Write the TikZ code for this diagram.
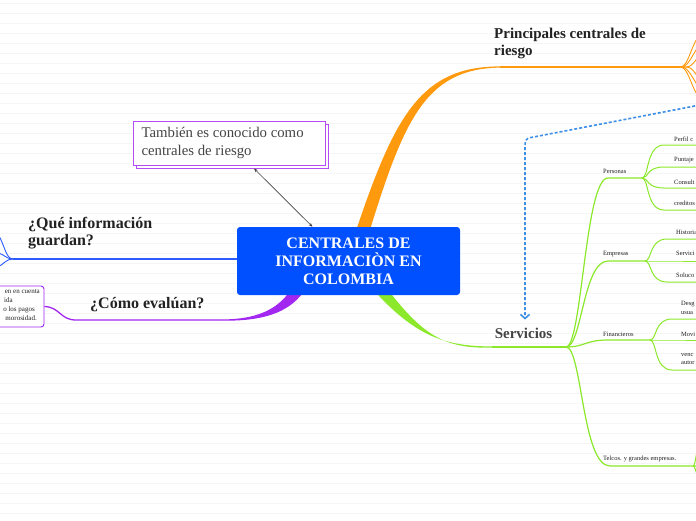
\documentclass[tikz,border=0pt]{standalone}
\usepackage{fontspec}
\setmainfont{Liberation Serif}
\usepackage{xcolor}
\definecolor{hubblue}{HTML}{0050FF}
\definecolor{qblue}{HTML}{2E5BFF}
\definecolor{dashblue}{HTML}{3D8FE8}
\definecolor{rorange}{HTML}{FF9A0E}
\definecolor{sgreen}{HTML}{8BE82B}
\definecolor{epurple}{HTML}{A227F0}
\definecolor{notepurple}{HTML}{B44CF2}
\definecolor{ink}{HTML}{222222}
\definecolor{grey700}{HTML}{444444}
\definecolor{paper}{HTML}{F5F5F5}
\usepackage{tikz}
\usetikzlibrary{arrows.meta, positioning, calc}

\begin{document}
\begin{tikzpicture}[
    x=1pt, y=-1pt,
    >=Stealth,
    hub/.style={fill=hubblue, rounded corners=3pt, minimum width=223pt, minimum height=68pt, align=center, text=white, font=\bfseries\fontsize{16}{18}\selectfont},
    note/.style={draw=notepurple, fill=white, line width=0.9pt, minimum width=192pt, minimum height=44pt},
    topic/.style={font=\bfseries\fontsize{15}{17}\selectfont, text=ink, align=flush left, inner sep=0pt},
    sub/.style={font=\fontsize{6.5}{8}\selectfont, text=ink, anchor=west, inner sep=0pt},
    leaf/.style={font=\fontsize{6.5}{8.5}\selectfont, text=ink, anchor=west, align=flush left, inner sep=0pt},
    twig/.style={draw=sgreen, line width=1pt}
]

% ── Paper ──
\useasboundingbox (0,0) rectangle (696,520);
\clip (0,0) rectangle (696,520);
\fill[white] (0,0) rectangle (696,520);
\foreach \y in {3.5,13.5,...,513.5}
  \draw[paper, line width=1pt] (0,\y) -- (696,\y);

% ── Junctions ──
\coordinate (h) at (348.5,261);
\coordinate (oj) at (680,67);
\coordinate (sj) at (566,347);
\coordinate (qj) at (13,259);
\coordinate (dj) at (700,105);
\coordinate (pj) at (642,178);
\coordinate (ej) at (645,261);
\coordinate (fj) at (650,340);

% ── Main branches ──
\fill[rorange] ($(h)+(4,-20)$) .. controls (393,120) and (418,66.3) .. (500,66.4)
  -- (500,67.6) .. controls (424,68.6) and (403,122) .. ($(h)+(18,-20)$) -- cycle;
\draw[rorange, line width=1.3pt] (500,67) -- (oj);
\foreach \ty in {37,47,57}
  \draw[rorange, line width=0.9pt] (oj) .. controls (688,67) and (690,{\ty+12}) .. (698,\ty);
\foreach \ty in {77,86,96}
  \draw[rorange, line width=0.9pt] (oj) .. controls (688,67) and (690,{\ty-12}) .. (698,\ty);

\fill[sgreen] ($(h)+(17,20)$) .. controls (412,335) and (442,346.4) .. (492,346.4)
  -- (492,347.6) .. controls (446,348.6) and (423,338) .. ($(h)+(33,20)$) -- cycle;
\draw[sgreen, line width=1.3pt] (492,347) -- (sj);

\fill[epurple] ($(h)+(-53,20)$) .. controls (284,306) and (262,319.4) .. (222,319.4)
  -- (222,320.6) .. controls (268,321.5) and (297,310) .. ($(h)+(-39,20)$) -- cycle;

\draw[qblue, line width=1.4pt] (qj -| h) -- (qj);
\draw[qblue, line width=0.9pt] (qj) .. controls (6,259) and (5,246) .. (-2,234);
\draw[qblue, line width=0.9pt] (qj) .. controls (6,259) and (4,254) .. (-2,253);
\draw[qblue, line width=0.9pt] (qj) .. controls (6,259) and (4,264) .. (-2,267);

% ── Hub ──
\node[hub] (cen) at (h) {CENTRALES DE\\INFORMACIÒN EN\\COLOMBIA};

% ── Callout ──
\node[note] (altshadow) at (232,146) {};
\node[note, font=\fontsize{14.8}{17.5}\selectfont, text=grey700, align=flush left, text width=175pt] (alt) at (229,143) {También es conocido como\\centrales de riesgo};
\draw[<->, draw=grey700, line width=0.6pt, >={Stealth[length=4pt,width=3pt]}]
  ($(altshadow.south)+(22,0)$) -- ($(cen.north)+(-36,0)$);

% ── Topics ──
\node[topic, anchor=north west] (riesgo) at (494,28) {Principales centrales de\\riesgo};
\node[topic, anchor=north west, font=\bfseries\fontsize{16}{17}\selectfont] (guarda) at (28,217) {¿Qué información\\guardan?};
\node[topic, anchor=west, font=\bfseries\fontsize{16}{17}\selectfont] (evalua) at (90,305) {¿Cómo evalúan?};
\node[topic, text=grey700] (svc) at (523.5,333) {Servicios};

% ── Evaluation box (cut at left edge) ──
\node[draw=epurple, fill=white, rounded corners=3pt, line width=0.9pt, minimum width=70pt, minimum height=41pt] (pbox) at (9,306.5) {};
\foreach \txt/\lx/\ly in {en en cuenta/40/293, ida/13/302, o los pagos/35/311, morosidad./37/320}
  \node[font=\fontsize{7}{8}\selectfont, text=ink, anchor=base east, inner sep=0pt] (pb\ly) at (\lx,\ly) {\txt};
\draw[epurple, line width=1.3pt] (222,320) -- (76,320) .. controls (60,320) and (60,307) .. (pbox.east);

% ── Dotted link ──
\draw[dashblue, line width=1.6pt, dash pattern=on 3pt off 2pt, -{Straight Barb[length=4pt,width=9pt]}]
  (dj) -- (531,137.5) .. controls (525,138.5) and (525,141) .. (525,148) -- ($(svc.north)+(1.5,-8)$);

% ── Servicios ──
\node[sub] (pers) at (603,171) {Personas};
\node[sub] (empr) at (603,254) {Empresas};
\node[sub] (fina) at (603,334) {Financieros};
\node[sub] (telc) at (603,459) {Telcos. y grandes empresas.};

\draw[twig, line width=1.2pt] (sj) .. controls (582,347) and (585,178) .. (608,178) -- (pj);
\draw[twig, line width=1.2pt] (sj) .. controls (582,347) and (583,261) .. (608,261) -- (ej);
\draw[twig, line width=1.2pt] (sj) .. controls (585,347) and (585,340) .. (608,340) -- (fj);
\draw[twig, line width=1.2pt] (sj) .. controls (582,347) and (582,466) .. (610,466) -- (700,466);
\draw[twig] (693,466) .. controls (695,466) and (695,460) .. (697,452);
\draw[twig] (693,466) .. controls (695,466) and (695,470) .. (697,474);

\foreach \ly in {145,167,188,210}
  \draw[twig] (pj) .. controls (649,178) and (646,\ly) .. (664,\ly) -- (700,\ly);
\foreach \ly in {239,261,282}
  \draw[twig] (ej) .. controls (652,261) and (649,\ly) .. (667,\ly) -- (700,\ly);
\foreach \ly in {319,340,370}
  \draw[twig] (fj) .. controls (657,340) and (654,\ly) .. (672,\ly) -- (700,\ly);

\foreach \txt/\lx/\ly in {Perfil c/674/139, Puntaje/674/160, Consult/674/182, creditos/674/203, Historia/676/232, Servici/676/253, Soluco/676/275, Movi/681/334}
  \node[leaf] (l\ly) at (\lx,\ly) {\txt};
\node[leaf] (l308) at (681,308) {Desg\\usua};
\node[leaf] (l359) at (681,359) {venc\\autor};
\end{tikzpicture}
\end{document}
